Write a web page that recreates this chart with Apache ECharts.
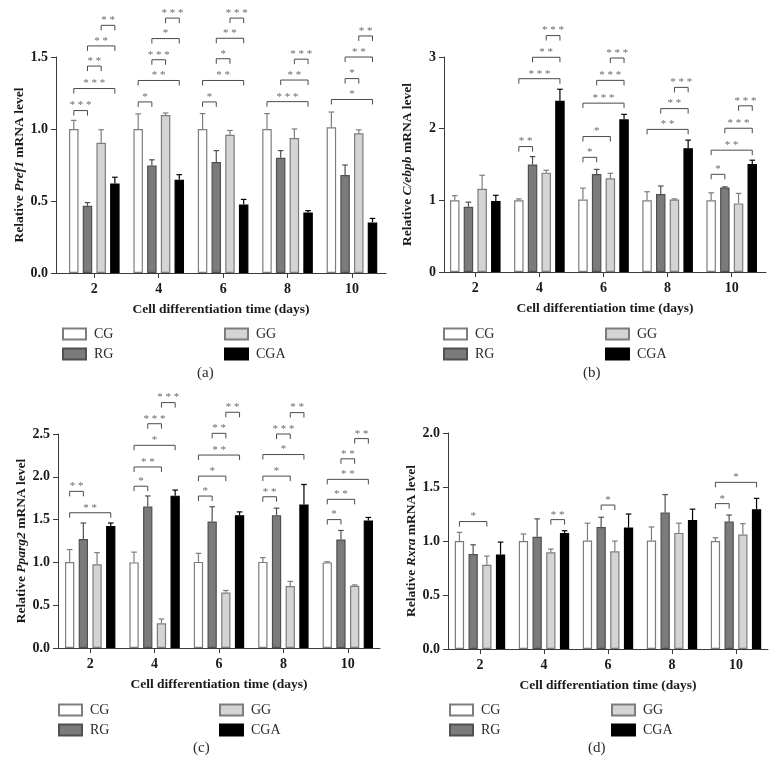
<!DOCTYPE html>
<html><head><meta charset="utf-8">
<script src="https://cdn.jsdelivr.net/npm/echarts@6/dist/echarts.min.js"></script>
<style>html,body{margin:0;padding:0;background:#fff}#c{width:781px;height:776px}</style>
</head><body><div id="c"></div><script>
const categories = ['2', '4', '6', '8', '10'];
const groupNames = ['CG', 'RG', 'GG', 'CGA'];
const panelTags = ['(a)', '(b)', '(c)', '(d)'];

// (a) Pref1
const prefCG  = [1.00, 1.00, 1.00, 1.00, 1.012];
const prefRG  = [0.467, 0.746, 0.77, 0.80, 0.68];
const prefGG  = [0.905, 1.097, 0.96, 0.937, 0.971];
const prefCGA = [0.622, 0.648, 0.476, 0.421, 0.351];
const prefCGsd  = [0.06, 0.105, 0.107, 0.107, 0.106];
const prefRGsd  = [0.022, 0.04, 0.08, 0.05, 0.07];
const prefGGsd  = [0.09, 0.014, 0.03, 0.063, 0.023];
const prefCGAsd = [0.043, 0.035, 0.035, 0.012, 0.028];
// bracket: [group, fromSeries, toSeries, level, stars]
const prefSig = [
  [0,0,1,1.128,3],[0,0,3,1.281,3],[0,1,2,1.437,2],[0,1,3,1.577,2],[0,2,3,1.72,2],
  [1,0,1,1.188,1],[1,0,3,1.337,2],[1,1,2,1.481,3],[1,1,3,1.628,1],[1,2,3,1.77,3],
  [2,0,1,1.188,1],[2,0,3,1.337,2],[2,1,2,1.488,1],[2,1,3,1.63,2],[2,2,3,1.77,3],
  [3,0,3,1.19,3],[3,1,3,1.34,2],[3,2,3,1.485,3],
  [4,0,3,1.205,1],[4,1,2,1.35,1],[4,1,3,1.50,2],[4,2,3,1.646,2]
];
// (b) C/ebpb
const cebCG  = [1.00, 1.00, 1.01, 1.00, 1.00];
const cebRG  = [0.91, 1.50, 1.367, 1.087, 1.18];
const cebGG  = [1.16, 1.386, 1.307, 1.01, 0.957];
const cebCGA = [0.99, 2.39, 2.13, 1.727, 1.507];
const cebCGsd  = [0.065, 0.02, 0.16, 0.12, 0.105];
const cebRGsd  = [0.065, 0.11, 0.065, 0.113, 0.008];
const cebGGsd  = [0.19, 0.034, 0.07, 0.01, 0.14];
const cebCGAsd = [0.08, 0.16, 0.07, 0.113, 0.053];
const cebSig = [
  [1,0,1,1.75,2],[1,0,3,2.697,3],[1,1,3,2.996,2],[1,2,3,3.299,3],
  [2,0,1,1.60,1],[2,0,2,1.89,1],[2,0,3,2.356,3],[2,1,3,2.674,3],[2,2,3,2.986,3],
  [3,0,3,1.99,2],[3,1,3,2.28,2],[3,2,3,2.576,3],
  [4,0,1,1.363,1],[4,0,3,1.70,2],[4,1,3,2.006,3],[4,2,3,2.319,3]
];
// (c) Pparg2
const ppCG  = [1.005, 1.00, 1.006, 1.006, 1.00];
const ppRG  = [1.274, 1.652, 1.478, 1.552, 1.268];
const ppGG  = [0.978, 0.289, 0.647, 0.725, 0.727];
const ppCGA = [1.425, 1.78, 1.552, 1.677, 1.49];
const ppCGsd  = [0.145, 0.12, 0.10, 0.05, 0.008];
const ppRGsd  = [0.186, 0.124, 0.172, 0.082, 0.105];
const ppGGsd  = [0.136, 0.05, 0.025, 0.053, 0.01];
const ppCGAsd = [0.035, 0.065, 0.038, 0.233, 0.035];
const ppSig = [
  [0,0,1,1.83,2],[0,0,3,1.58,2],
  [1,0,1,1.89,1],[1,0,2,2.115,2],[1,0,3,2.368,1],[1,1,2,2.62,3],[1,2,3,2.867,3],
  [2,0,1,1.775,1],[2,0,2,2.008,1],[2,0,3,2.254,2],[2,1,2,2.508,2],[2,2,3,2.754,2],
  [3,0,1,1.767,2],[3,0,2,2.008,1],[3,0,3,2.26,1],[3,1,2,2.50,3],[3,2,3,2.75,2],
  [4,0,1,1.50,1],[4,0,2,1.737,2],[4,0,3,1.97,2],[4,1,2,2.21,2],[4,2,3,2.446,2]
];
// (d) Rxra
const rxCG  = [1.00, 1.00, 1.005, 1.005, 1.00];
const rxRG  = [0.88, 1.04, 1.13, 1.265, 1.18];
const rxGG  = [0.78, 0.895, 0.905, 1.075, 1.06];
const rxCGA = [0.875, 1.075, 1.125, 1.195, 1.295];
const rxCGsd  = [0.08, 0.065, 0.16, 0.125, 0.03];
const rxRGsd  = [0.085, 0.165, 0.09, 0.165, 0.06];
const rxGGsd  = [0.08, 0.03, 0.095, 0.09, 0.1];
const rxCGAsd = [0.115, 0.02, 0.125, 0.10, 0.1];
const rxSig = [
  [0,0,2,1.18,1],[1,2,3,1.198,2],[2,1,2,1.333,1],[4,0,1,1.346,1],[4,0,3,1.543,1]
];
const yTicksA = [0, 0.5, 1.0, 1.5];
const yTicksB = [0, 1, 2, 3];
const yTicksC = [0, 0.5, 1.0, 1.5, 2.0, 2.5];
const yTicksD = [0, 0.5, 1.0, 1.5, 2.0];

// ---------- layout / styles ----------
const SERIF = '"Liberation Serif", "DejaVu Serif", serif';
const fills   = ['#ffffff', '#7b7b7b', '#d4d4d4', '#000000'];
const borders = ['#7d7d7d', '#505050', '#7d7d7d', '#000000'];

const panels = [
  {gene: 'Pref1', vals: [prefCG, prefRG, prefGG, prefCGA], sds: [prefCGsd, prefRGsd, prefGGsd, prefCGAsd], sig: prefSig, ticks: yTicksA, dec: 1,
   grid: {left: 56, top: 57, width: 330, height: 216}, xMin: -0.595, xMax: 4.529, bw: 9.5, gap: 4.2,
   leg: [[62, 327], [224, 327]], tag: [197, 375]},
  {gene: 'C/ebpb', vals: [cebCG, cebRG, cebGG, cebCGA], sds: [cebCGsd, cebRGsd, cebGGsd, cebCGAsd], sig: cebSig, ticks: yTicksB, dec: 0,
   grid: {left: 444, top: 57, width: 322, height: 215}, xMin: -0.488, xMax: 4.535, bw: 9.5, gap: 4.2,
   leg: [[443, 327], [605, 327]], tag: [583, 375]},
  {gene: 'Pparg2', vals: [ppCG, ppRG, ppGG, ppCGA], sds: [ppCGsd, ppRGsd, ppGGsd, ppCGAsd], sig: ppSig, ticks: yTicksC, dec: 1,
   grid: {left: 58, top: 434, width: 322, height: 214}, xMin: -0.5, xMax: 4.5, bw: 9.3, gap: 4.4,
   leg: [[58, 703], [219, 703]], tag: [193, 750]},
  {gene: 'Rxra', vals: [rxCG, rxRG, rxGG, rxCGA], sds: [rxCGsd, rxRGsd, rxGGsd, rxCGAsd], sig: rxSig, ticks: yTicksD, dec: 1,
   grid: {left: 448, top: 433, width: 320, height: 216}, xMin: -0.5, xMax: 4.5, bw: 9.3, gap: 4.4,
   leg: [[449, 703], [611, 703]], tag: [588, 750]}
];

const grids = [], xAxes = [], yAxes = [], series = [], legends = [], graphics = [];

panels.forEach((p, pi) => {
  grids.push(Object.assign({containLabel: false}, p.grid));
  const stride = p.bw + p.gap;
  const offs = [0, 1, 2, 3].map(i => (i - 1.5) * stride);
  xAxes.push({
    type: 'value', gridIndex: pi, min: p.xMin, max: p.xMax,
    name: 'Cell differentiation time (days)', nameLocation: 'middle', nameGap: 30,
    nameTextStyle: {fontFamily: SERIF, fontWeight: 'bold', fontSize: 13.5, color: '#1a1a1a'},
    axisLine: {onZero: false, lineStyle: {color: '#3a3a3a', width: 1}},
    axisTick: {show: true, length: 5, lineStyle: {color: '#3a3a3a'}, customValues: [0, 1, 2, 3, 4]},
    axisLabel: {customValues: [0, 1, 2, 3, 4], formatter: v => categories[Math.round(v)], margin: 9,
      fontFamily: SERIF, fontWeight: 'bold', fontSize: 14, color: '#1a1a1a'},
    splitLine: {show: false}, axisPointer: {show: false}
  });
  const top = p.ticks[p.ticks.length - 1];
  yAxes.push({
    type: 'value', gridIndex: pi, min: 0, max: top, interval: p.ticks[1] - p.ticks[0],
    name: 'Relative {i|' + p.gene + '} mRNA level', nameLocation: 'middle', nameGap: 29, nameRotate: 90,
    nameTextStyle: {fontFamily: SERIF, fontWeight: 'bold', fontSize: 13.5, color: '#1a1a1a',
      rich: {i: {fontFamily: SERIF, fontWeight: 'bold', fontStyle: 'italic', fontSize: 13.5, color: '#1a1a1a'}}},
    axisLine: {show: true, onZero: false, lineStyle: {color: '#3a3a3a', width: 1}},
    axisTick: {show: true, length: 5, lineStyle: {color: '#3a3a3a'}},
    axisLabel: {formatter: v => v.toFixed(p.dec), margin: 8, fontFamily: SERIF, fontWeight: 'bold', fontSize: 14, color: '#1a1a1a'},
    splitLine: {show: false}, axisPointer: {show: false}
  });
  groupNames.forEach((nm, si) => {
    series.push({
      type: 'bar', name: nm, xAxisIndex: pi, yAxisIndex: pi,
      data: p.vals[si].map((v, g) => [g, v]),
      barWidth: p.bw, barGap: (p.gap / p.bw * 100).toFixed(1) + '%',
      itemStyle: {color: fills[si], borderColor: borders[si], borderWidth: 1.2},
      emphasis: {disabled: true}, z: 2
    });
  });
  // error bars (upper whiskers)
  const errData = [];
  p.vals.forEach((arr, si) => arr.forEach((v, g) => errData.push([g, v, si, p.sds[si][g]])));
  series.push({
    type: 'custom', xAxisIndex: pi, yAxisIndex: pi, data: errData, encode: {x: 0, y: 1}, z: 3,
    renderItem: (params, api) => {
      const g = api.value(0), v = api.value(1), si = api.value(2), sd = api.value(3);
      const b = api.coord([g, v]), t = api.coord([g, v + sd]);
      const x = b[0] + offs[si];
      const st = {stroke: borders[si], lineWidth: 1.2};
      return {type: 'group', children: [
        {type: 'line', shape: {x1: x, y1: b[1], x2: x, y2: t[1]}, style: st},
        {type: 'line', shape: {x1: x - 2.8, y1: t[1], x2: x + 2.8, y2: t[1]}, style: st}
      ]};
    }
  });
  // significance brackets
  const sigData = p.sig.map(s => [s[0], s[3], s[1], s[2], s[4]]);
  series.push({
    type: 'custom', xAxisIndex: pi, yAxisIndex: pi, data: sigData, encode: {x: 0, y: 1}, z: 4, clip: false,
    renderItem: (params, api) => {
      const g = api.value(0), lv = api.value(1), a = api.value(2), b = api.value(3), n = api.value(4);
      const c = api.coord([g, lv]);
      const x1 = c[0] + offs[a], x2 = c[0] + offs[b], y = c[1];
      const st = {stroke: '#4a4a4a', lineWidth: 1};
      return {type: 'group', children: [
        {type: 'line', shape: {x1: x1, y1: y + 5, x2: x1, y2: y}, style: st},
        {type: 'line', shape: {x1: x1, y1: y, x2: x2, y2: y}, style: st},
        {type: 'line', shape: {x1: x2, y1: y, x2: x2, y2: y + 5}, style: st},
        {type: 'text', x: (x1 + x2) / 2, y: y + 0.5, style: {text: Array(n).fill('*').join(' '), fontFamily: SERIF, fontSize: 11,
          fill: '#6a6a6a', align: 'center', verticalAlign: 'bottom'}}
      ]};
    }
  });
  [[0, 1], [2, 3]].forEach((pair, li) => {
    legends.push({
      data: pair.map(i => groupNames[i]), orient: 'vertical', left: p.leg[li][0], top: p.leg[li][1],
      itemWidth: 23, itemHeight: 11, itemGap: 6, selectedMode: false, padding: 0, icon: 'rect',
      textStyle: {fontFamily: SERIF, fontSize: 14, color: '#2a2a2a', padding: [0, 0, 0, 3]}
    });
  });
  graphics.push({type: 'text', left: p.tag[0], top: p.tag[1] - 9,
    style: {text: panelTags[pi], fontFamily: SERIF, fontSize: 15, fill: '#2a2a2a'}});
});

const chart = echarts.init(document.getElementById('c'), null, {renderer: 'canvas'});
chart.setOption({
  animation: false, backgroundColor: '#ffffff',
  grid: grids, xAxis: xAxes, yAxis: yAxes, series: series, legend: legends, graphic: graphics
});
</script></body></html>
